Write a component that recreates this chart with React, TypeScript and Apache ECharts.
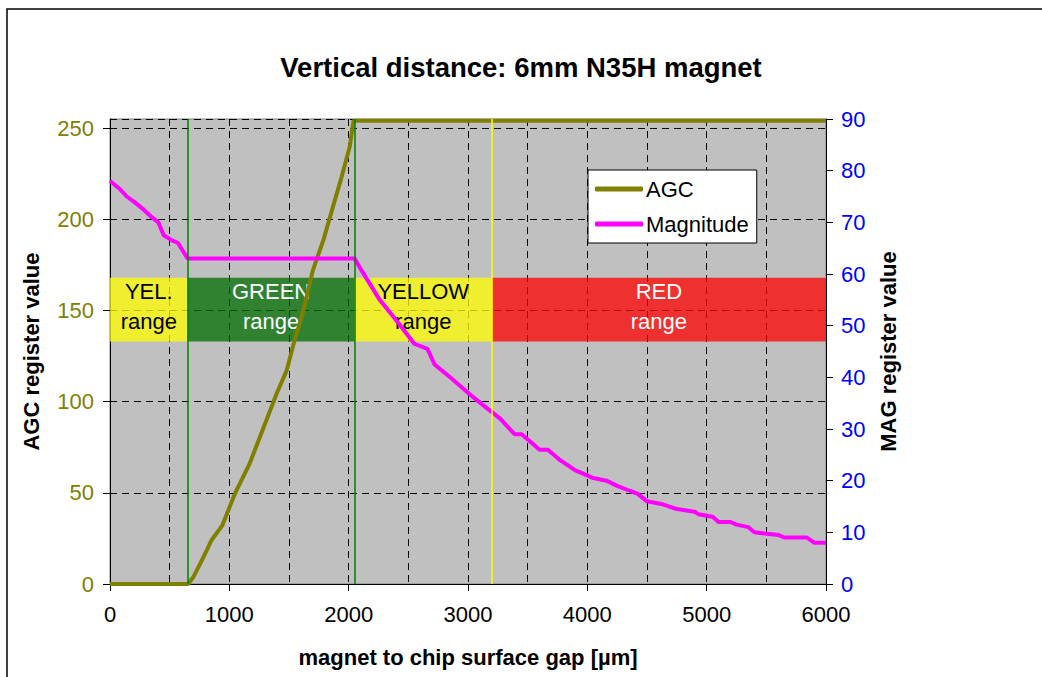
import React, { useEffect, useRef } from "react";
import * as echarts from "echarts";

const FONT = "'Liberation Sans', Arial, sans-serif";

const titleText = "Vertical distance: 6mm N35H magnet";
const xAxisName = "magnet to chip surface gap [µm]";
const leftAxisName = "AGC register value";
const rightAxisName = "MAG register value";

const agcGap = [0, 655, 700, 755, 800, 850, 940, 1050, 1170, 1300, 1400, 1480, 1540, 1620, 1700, 1790, 1860, 1940, 2010, 2040, 2060, 6000];
const agcValue = [0, 0, 4, 11, 17, 24, 32, 50, 66, 88, 105, 117, 132, 150, 172, 189, 205, 223, 240, 254, 254, 254];

const magGap = [0, 80, 140, 200, 280, 350, 405, 450, 520, 570, 650, 2050, 2100, 2140, 2260, 2400, 2550, 2660, 2720, 2850, 3000, 3160, 3270, 3390, 3450, 3600, 3670, 3770, 3900, 3950, 4050, 4160, 4250, 4360, 4420, 4500, 4620, 4750, 4900, 4930, 5050, 5100, 5200, 5250, 5350, 5400, 5600, 5650, 5840, 5900, 6000];
const magValue = [78, 76.5, 75, 74, 72.5, 71, 70, 67.5, 66.5, 66, 63, 63, 61, 59.5, 55, 51, 46.5, 45.5, 42.5, 40, 37, 34, 32, 29, 29, 26, 26, 24, 22, 21.5, 20.5, 20, 19, 18, 17.5, 16, 15.5, 14.5, 14, 13.5, 13, 12, 12, 11.5, 11, 10, 9.5, 9, 9, 8, 8];

const bandNames = ["YEL.\nrange", "GREEN\nrange", "YELLOW\nrange", "RED\nrange"];
const bandStart = [0, 650, 2050, 3200];
const bandEnd = [650, 2050, 3200, 6000];
const bandColors = ["#FFFF00", "#006E00", "#FFFF00", "#FF0000"];
const bandTextColors = ["#000", "#fff", "#000", "#fff"];
const bandLow = 133;
const bandHigh = 168;

const markerGap = [650, 2050, 3200];
const markerColors = ["#008000", "#008000", "#FFFF00"];

export default function App() {
  const ref = useRef<HTMLDivElement>(null);
  useEffect(() => {
    if (!ref.current) return;
    const chart = echarts.init(ref.current, null, { renderer: "svg" });
    const dashed = { color: "#000", width: 1, type: [7, 5] as any };
    const option: any = {
      animation: false,
      textStyle: { fontFamily: FONT },
      title: {
        text: titleText,
        left: "center",
        top: 48,
        textStyle: { fontSize: 27.5, fontWeight: "bold", color: "#000", fontFamily: FONT },
      },
      graphic: [
        {
          type: "rect",
          shape: { x: 7, y: 9, width: 1200, height: 1000 },
          style: { fill: "none", stroke: "#000", lineWidth: 1.5 },
          silent: true,
        },
      ],
      legend: {
        data: ["AGC", "Magnitude"],
        orient: "vertical",
        left: 588,
        top: 170,
        padding: [8, 8, 8, 7],
        itemGap: 13,
        itemWidth: 48,
        itemHeight: 5,
        icon: "roundRect",
        backgroundColor: "#fff",
        borderColor: "#000",
        borderWidth: 1,
        borderRadius: 0,
        textStyle: { fontSize: 22, color: "#000", fontFamily: FONT, padding: [0, 0, 0, -2] },
      },
      grid: {
        left: 110,
        top: 119,
        right: 216,
        bottom: 93,
        show: true,
        backgroundColor: "#C0C0C0",
        borderColor: "#808080",
        borderWidth: 1,
      },
      xAxis: {
        type: "value",
        min: 0,
        max: 6000,
        interval: 1000,
        name: xAxisName,
        nameLocation: "middle",
        nameGap: 62,
        nameTextStyle: { fontSize: 22, fontWeight: "bold", color: "#000", fontFamily: FONT },
        axisLine: { show: true, lineStyle: { color: "#000", width: 1 } },
        axisTick: { show: true, length: 7, lineStyle: { color: "#000" } },
        axisLabel: { fontSize: 22, color: "#000", margin: 19, fontFamily: FONT, formatter: (v: number) => String(v) },
        splitLine: { show: true, lineStyle: dashed },
        minorTick: { show: false, splitNumber: 2 },
        minorSplitLine: { show: true, lineStyle: dashed },
      },
      yAxis: [
        {
          type: "value",
          min: 0,
          max: 255,
          interval: 50,
          position: "left",
          name: leftAxisName,
          nameLocation: "middle",
          nameRotate: 90,
          nameGap: 68,
          nameTextStyle: { fontSize: 22, fontWeight: "bold", color: "#000", fontFamily: FONT },
          axisLine: { show: true, lineStyle: { color: "#000", width: 1 } },
          axisTick: { show: true, length: 7, lineStyle: { color: "#000" } },
          axisLabel: { fontSize: 22, color: "#808000", margin: 16, showMaxLabel: false, fontFamily: FONT },
          splitLine: { show: true, lineStyle: dashed },
        },
        {
          type: "value",
          min: 0,
          max: 90,
          interval: 10,
          position: "right",
          name: rightAxisName,
          nameLocation: "middle",
          nameRotate: 90,
          nameGap: 51,
          nameTextStyle: { fontSize: 22, fontWeight: "bold", color: "#000", fontFamily: FONT },
          axisLine: { show: true, lineStyle: { color: "#000", width: 1 } },
          axisTick: { show: true, length: 7, lineStyle: { color: "#000" } },
          axisLabel: { fontSize: 22, color: "#0000FF", margin: 15, fontFamily: FONT },
          splitLine: { show: false },
        },
      ],
      series: [
        {
          name: "AGC",
          type: "line",
          yAxisIndex: 0,
          z: 2,
          symbol: "none",
          color: "#808000",
          lineStyle: { color: "#808000", width: 4 },
          data: agcGap.map((g, i) => [g, agcValue[i]]),
        },
        {
          name: "Magnitude",
          type: "line",
          yAxisIndex: 1,
          z: 2,
          symbol: "none",
          color: "#FF00FF",
          lineStyle: { color: "#FF00FF", width: 4 },
          data: magGap.map((g, i) => [g, magValue[i]]),
        },
        {
          name: "bands",
          type: "line",
          yAxisIndex: 0,
          z: 3,
          symbol: "none",
          data: [],
          silent: true,
          markArea: {
            silent: true,
            data: bandNames.map((n, i) => [
              {
                name: n,
                xAxis: bandStart[i],
                yAxis: bandLow,
                itemStyle: { color: bandColors[i], opacity: 0.75 },
                label: {
                  show: true,
                  position: "inside",
                  offset: [0, -3],
                  color: bandTextColors[i],
                  fontSize: 22,
                  lineHeight: 30,
                  fontFamily: FONT,
                  align: "center",
                },
              },
              { xAxis: bandEnd[i], yAxis: bandHigh },
            ]),
          },
          markLine: {
            silent: true,
            symbol: "none",
            label: { show: false },
            data: markerGap.map((g, i) => ({
              xAxis: g,
              lineStyle: { color: markerColors[i], width: 1.5, type: "solid" },
            })),
          },
        },
      ],
    };
    chart.setOption(option);
    return () => chart.dispose();
  }, []);
  return (
    <div
      ref={ref}
      style={{ position: "absolute", left: 0, top: 0, width: 1042, height: 677, background: "#fff" }}
    />
  );
}
